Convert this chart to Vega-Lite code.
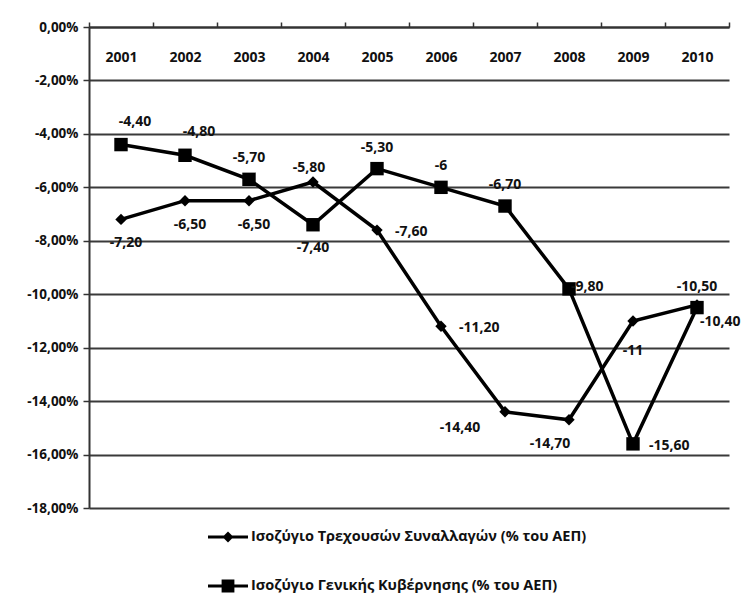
{
  "$schema": "https://vega.github.io/schema/vega-lite/v6.json",
  "width": 640,
  "height": 481,
  "autosize": "none",
  "padding": {"left": 89, "top": 27, "right": 15, "bottom": 90},
  "background": "white",
  "config": {"view": {"stroke": null}, "font": "Open Sans"},
  "data": {
    "values": [
      {"Year": 2001, "Series": "Ισοζύγιο Τρεχουσών Συναλλαγών (% του ΑΕΠ)", "Value": -7.2, "Label": "-7,20"},
      {"Year": 2002, "Series": "Ισοζύγιο Τρεχουσών Συναλλαγών (% του ΑΕΠ)", "Value": -6.5, "Label": "-6,50"},
      {"Year": 2003, "Series": "Ισοζύγιο Τρεχουσών Συναλλαγών (% του ΑΕΠ)", "Value": -6.5, "Label": "-6,50"},
      {"Year": 2004, "Series": "Ισοζύγιο Τρεχουσών Συναλλαγών (% του ΑΕΠ)", "Value": -5.8, "Label": "-5,80"},
      {"Year": 2005, "Series": "Ισοζύγιο Τρεχουσών Συναλλαγών (% του ΑΕΠ)", "Value": -7.6, "Label": "-7,60"},
      {"Year": 2006, "Series": "Ισοζύγιο Τρεχουσών Συναλλαγών (% του ΑΕΠ)", "Value": -11.2, "Label": "-11,20"},
      {"Year": 2007, "Series": "Ισοζύγιο Τρεχουσών Συναλλαγών (% του ΑΕΠ)", "Value": -14.4, "Label": "-14,40"},
      {"Year": 2008, "Series": "Ισοζύγιο Τρεχουσών Συναλλαγών (% του ΑΕΠ)", "Value": -14.7, "Label": "-14,70"},
      {"Year": 2009, "Series": "Ισοζύγιο Τρεχουσών Συναλλαγών (% του ΑΕΠ)", "Value": -11.0, "Label": "-11"},
      {"Year": 2010, "Series": "Ισοζύγιο Τρεχουσών Συναλλαγών (% του ΑΕΠ)", "Value": -10.4, "Label": "-10,40"},
      {"Year": 2001, "Series": "Ισοζύγιο Γενικής Κυβέρνησης (% του ΑΕΠ)", "Value": -4.4, "Label": "-4,40"},
      {"Year": 2002, "Series": "Ισοζύγιο Γενικής Κυβέρνησης (% του ΑΕΠ)", "Value": -4.8, "Label": "-4,80"},
      {"Year": 2003, "Series": "Ισοζύγιο Γενικής Κυβέρνησης (% του ΑΕΠ)", "Value": -5.7, "Label": "-5,70"},
      {"Year": 2004, "Series": "Ισοζύγιο Γενικής Κυβέρνησης (% του ΑΕΠ)", "Value": -7.4, "Label": "-7,40"},
      {"Year": 2005, "Series": "Ισοζύγιο Γενικής Κυβέρνησης (% του ΑΕΠ)", "Value": -5.3, "Label": "-5,30"},
      {"Year": 2006, "Series": "Ισοζύγιο Γενικής Κυβέρνησης (% του ΑΕΠ)", "Value": -6.0, "Label": "-6"},
      {"Year": 2007, "Series": "Ισοζύγιο Γενικής Κυβέρνησης (% του ΑΕΠ)", "Value": -6.7, "Label": "-6,70"},
      {"Year": 2008, "Series": "Ισοζύγιο Γενικής Κυβέρνησης (% του ΑΕΠ)", "Value": -9.8, "Label": "-9,80"},
      {"Year": 2009, "Series": "Ισοζύγιο Γενικής Κυβέρνησης (% του ΑΕΠ)", "Value": -15.6, "Label": "-15,60"},
      {"Year": 2010, "Series": "Ισοζύγιο Γενικής Κυβέρνησης (% του ΑΕΠ)", "Value": -10.5, "Label": "-10,50"}
    ]
  },
  "encoding": {
    "x": {
      "field": "Year",
      "type": "ordinal",
      "scale": {"type": "band", "paddingInner": 0, "paddingOuter": 0},
      "axis": {
        "orient": "top",
        "title": null,
        "tickBand": "extent",
        "labelAngle": 0,
        "labelPadding": -35,
        "labelBaseline": "middle",
        "tickSize": 5,
        "domainColor": "#333",
        "domainWidth": 2,
        "tickColor": "#333",
        "tickWidth": 1.5,
        "labelFont": "Open Sans",
        "labelFontWeight": "bold",
        "labelFontSize": 14,
        "labelColor": "#111",
        "grid": false
      }
    },
    "y": {
      "field": "Value",
      "type": "quantitative",
      "scale": {"domain": [-18, 0], "nice": false},
      "axis": {
        "title": null,
        "values": [0, -2, -4, -6, -8, -10, -12, -14, -16, -18],
        "labelExpr": "(datum.value < 0 ? '-' : '') + replace(format(abs(datum.value), '.2f'), '.', ',') + '%'",
        "grid": true,
        "gridColor": "#3a3a3a",
        "gridWidth": 1.8,
        "domainColor": "#333",
        "domainWidth": 2,
        "tickColor": "#333",
        "tickWidth": 1.5,
        "tickSize": 6,
        "labelPadding": 5,
        "labelFont": "Open Sans",
        "labelFontWeight": "bold",
        "labelFontSize": 13.5,
        "labelColor": "#111"
      }
    }
  },
  "layer": [
    {
      "mark": {"type": "line", "color": "black", "strokeWidth": 3.5},
      "encoding": {"detail": {"field": "Series"}}
    },
    {
      "mark": {"type": "point", "filled": true, "color": "black", "opacity": 1},
      "encoding": {
        "shape": {
          "field": "Series",
          "scale": {
            "domain": ["Ισοζύγιο Τρεχουσών Συναλλαγών (% του ΑΕΠ)", "Ισοζύγιο Γενικής Κυβέρνησης (% του ΑΕΠ)"],
            "range": ["diamond", "square"]
          },
          "legend": null
        },
        "size": {
          "field": "Series",
          "scale": {
            "domain": ["Ισοζύγιο Τρεχουσών Συναλλαγών (% του ΑΕΠ)", "Ισοζύγιο Γενικής Κυβέρνησης (% του ΑΕΠ)"],
            "range": [130, 180]
          },
          "legend": null
        }
      }
    },
    {
      "mark": {"type": "point", "filled": true, "color": "black", "opacity": 0},
      "encoding": {
        "shape": {
          "field": "Series",
          "scale": {
            "domain": ["Ισοζύγιο Τρεχουσών Συναλλαγών (% του ΑΕΠ)", "Ισοζύγιο Γενικής Κυβέρνησης (% του ΑΕΠ)"],
            "range": [
              "M-1,-0.075L-0.2,-0.075L0,-0.27L0.2,-0.075L1,-0.075L1,0.075L0.2,0.075L0,0.27L-0.2,0.075L-1,0.075Z",
              "M-1,-0.075L-0.32,-0.075L-0.32,-0.32L0.32,-0.32L0.32,-0.075L1,-0.075L1,0.075L0.32,0.075L0.32,0.32L-0.32,0.32L-0.32,0.075L-1,0.075Z"
            ]
          },
          "legend": {
            "title": null,
            "orient": "none",
            "legendX": 119,
            "legendY": 490,
            "padding": 0,
            "direction": "vertical",
            "rowPadding": 22,
            "symbolSize": 1600,
            "symbolOpacity": 1,
            "symbolFillColor": "black",
            "symbolStrokeWidth": 0,
            "labelFont": "Open Sans",
            "labelFontWeight": "bold",
            "labelFontSize": 14.5,
            "labelColor": "#111",
            "labelOffset": 3,
            "labelLimit": 600,
            "encode": {
              "symbols": {
                "update": {
                  "fill": {"value": "black"},
                  "opacity": {"value": 1},
                  "fillOpacity": {"value": 1}
                }
              }
            }
          }
        }
      }
    },
    {
      "transform": [{"filter": {"and": [{"field": "Series", "equal": "Ισοζύγιο Γενικής Κυβέρνησης (% του ΑΕΠ)"}, {"field": "Year", "oneOf": [2003, 2005, 2006, 2007, 2010]}]}}],
      "mark": {"type": "text", "dy": -21, "align": "center", "fontWeight": "bold", "fontSize": 14, "color": "#111"},
      "encoding": {"text": {"field": "Label"}}
    },
    {
      "transform": [{"filter": {"and": [{"field": "Series", "equal": "Ισοζύγιο Γενικής Κυβέρνησης (% του ΑΕΠ)"}, {"field": "Year", "oneOf": [2001, 2002]}]}}],
      "mark": {"type": "text", "dy": -23, "dx": 14, "align": "center", "fontWeight": "bold", "fontSize": 14, "color": "#111"},
      "encoding": {"text": {"field": "Label"}}
    },
    {
      "transform": [{"filter": {"and": [{"field": "Series", "equal": "Ισοζύγιο Γενικής Κυβέρνησης (% του ΑΕΠ)"}, {"field": "Year", "oneOf": [2004]}]}}],
      "mark": {"type": "text", "dy": 23, "align": "center", "fontWeight": "bold", "fontSize": 14, "color": "#111"},
      "encoding": {"text": {"field": "Label"}}
    },
    {
      "transform": [{"filter": {"and": [{"field": "Series", "equal": "Ισοζύγιο Γενικής Κυβέρνησης (% του ΑΕΠ)"}, {"field": "Year", "oneOf": [2008]}]}}],
      "mark": {"type": "text", "dx": 2, "dy": -2, "align": "left", "fontWeight": "bold", "fontSize": 14, "color": "#111"},
      "encoding": {"text": {"field": "Label"}}
    },
    {
      "transform": [{"filter": {"and": [{"field": "Series", "equal": "Ισοζύγιο Γενικής Κυβέρνησης (% του ΑΕΠ)"}, {"field": "Year", "oneOf": [2009]}]}}],
      "mark": {"type": "text", "dx": 16, "dy": 2, "align": "left", "fontWeight": "bold", "fontSize": 14, "color": "#111"},
      "encoding": {"text": {"field": "Label"}}
    },
    {
      "transform": [{"filter": {"and": [{"field": "Series", "equal": "Ισοζύγιο Τρεχουσών Συναλλαγών (% του ΑΕΠ)"}, {"field": "Year", "oneOf": [2001, 2002, 2003]}]}}],
      "mark": {"type": "text", "dy": 24, "dx": 5, "align": "center", "fontWeight": "bold", "fontSize": 14, "color": "#111"},
      "encoding": {"text": {"field": "Label"}}
    },
    {
      "transform": [{"filter": {"and": [{"field": "Series", "equal": "Ισοζύγιο Τρεχουσών Συναλλαγών (% του ΑΕΠ)"}, {"field": "Year", "oneOf": [2009]}]}}],
      "mark": {"type": "text", "dy": 30, "align": "center", "fontWeight": "bold", "fontSize": 14, "color": "#111"},
      "encoding": {"text": {"field": "Label"}}
    },
    {
      "transform": [{"filter": {"and": [{"field": "Series", "equal": "Ισοζύγιο Τρεχουσών Συναλλαγών (% του ΑΕΠ)"}, {"field": "Year", "oneOf": [2004]}]}}],
      "mark": {"type": "text", "dy": -14, "dx": -4, "align": "center", "fontWeight": "bold", "fontSize": 14, "color": "#111"},
      "encoding": {"text": {"field": "Label"}}
    },
    {
      "transform": [{"filter": {"and": [{"field": "Series", "equal": "Ισοζύγιο Τρεχουσών Συναλλαγών (% του ΑΕΠ)"}, {"field": "Year", "oneOf": [2005, 2006]}]}}],
      "mark": {"type": "text", "dx": 18, "dy": 2, "align": "left", "fontWeight": "bold", "fontSize": 14, "color": "#111"},
      "encoding": {"text": {"field": "Label"}}
    },
    {
      "transform": [{"filter": {"and": [{"field": "Series", "equal": "Ισοζύγιο Τρεχουσών Συναλλαγών (% του ΑΕΠ)"}, {"field": "Year", "oneOf": [2010]}]}}],
      "mark": {"type": "text", "dx": 3, "dy": 17, "align": "left", "fontWeight": "bold", "fontSize": 14, "color": "#111"},
      "encoding": {"text": {"field": "Label"}}
    },
    {
      "transform": [{"filter": {"and": [{"field": "Series", "equal": "Ισοζύγιο Τρεχουσών Συναλλαγών (% του ΑΕΠ)"}, {"field": "Year", "oneOf": [2007]}]}}],
      "mark": {"type": "text", "dx": -45, "dy": 16, "align": "center", "fontWeight": "bold", "fontSize": 14, "color": "#111"},
      "encoding": {"text": {"field": "Label"}}
    },
    {
      "transform": [{"filter": {"and": [{"field": "Series", "equal": "Ισοζύγιο Τρεχουσών Συναλλαγών (% του ΑΕΠ)"}, {"field": "Year", "oneOf": [2008]}]}}],
      "mark": {"type": "text", "dx": -19, "dy": 24, "align": "center", "fontWeight": "bold", "fontSize": 14, "color": "#111"},
      "encoding": {"text": {"field": "Label"}}
    }
  ],
  "resolve": {"scale": {"shape": "independent"}, "legend": {"shape": "independent"}}
}
